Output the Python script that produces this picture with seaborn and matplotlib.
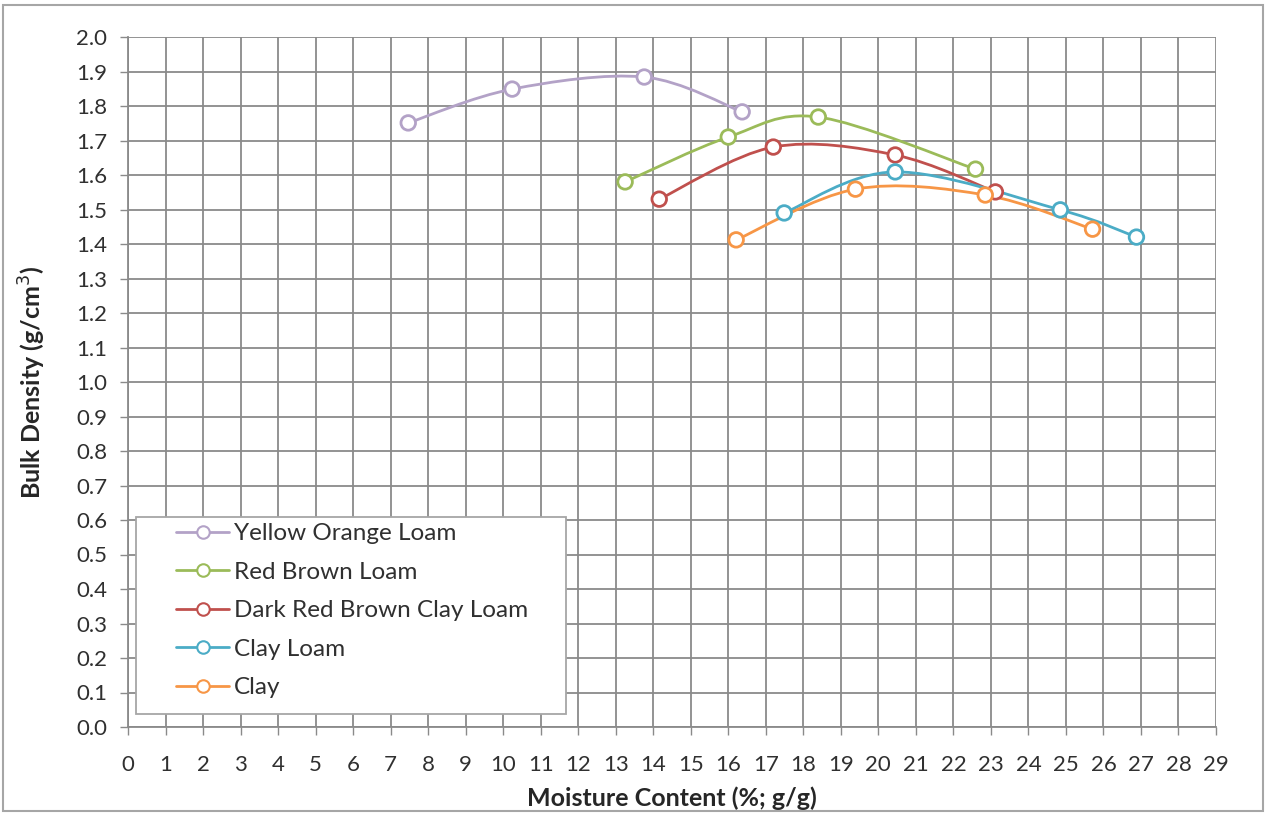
import numpy as np
import pandas as pd
import matplotlib
matplotlib.use("Agg")
import matplotlib.pyplot as plt
from matplotlib.path import Path
from matplotlib.patches import PathPatch, Rectangle
from matplotlib.lines import Line2D
import seaborn as sns

# Compaction test results: moisture content (%) vs bulk density (g/cm3)
soils = ["Yellow Orange Loam", "Red Brown Loam", "Dark Red Brown Clay Loam",
         "Clay Loam", "Clay"]
yol_moisture = [7.47, 10.24, 13.76, 16.37]
yol_density = [1.751, 1.849, 1.884, 1.783]
rbl_moisture = [13.25, 16.0, 18.4, 22.59]
rbl_density = [1.580, 1.710, 1.768, 1.617]
drbcl_moisture = [14.16, 17.2, 20.45, 23.12]
drbcl_density = [1.530, 1.681, 1.658, 1.551]
cl_moisture = [17.49, 20.45, 24.85, 26.88]
cl_density = [1.490, 1.609, 1.499, 1.420]
clay_moisture = [16.21, 19.39, 22.85, 25.71]
clay_density = [1.412, 1.559, 1.542, 1.443]

x_ticks = list(range(0, 30))
y_ticks = [round(0.1 * i, 1) for i in range(0, 21)]

colors = ["#b3a2c7", "#9bbb59", "#c0504d", "#4bacc6", "#f79646"]

frames = []
for name, xs, ys in zip(
        soils,
        [yol_moisture, rbl_moisture, drbcl_moisture, cl_moisture, clay_moisture],
        [yol_density, rbl_density, drbcl_density, cl_density, clay_density]):
    frames.append(pd.DataFrame({"Soil": name, "Moisture": xs, "Density": ys}))
df = pd.concat(frames, ignore_index=True)

sns.set_theme(style="white")
plt.rcParams["font.family"] = ["Lato", "DejaVu Sans"]

W, H = 1266, 814
fig = plt.figure(figsize=(W / 100, H / 100), dpi=100)
fig.patch.set_facecolor("white")
# outer chart border
fig.add_artist(Rectangle((3 / W, 3 / H), 1 - 6 / W, 1 - 8 / H,
                         transform=fig.transFigure, fill=False,
                         edgecolor="#a6a6a6", linewidth=1.5))

ax = fig.add_axes([128 / W, 1 - 727 / H, (1216 - 128) / W, (727 - 37) / H])
ax.set_xlim(0, 29)
ax.set_ylim(0, 2.0)
ax.set_xticks(x_ticks)
ax.set_yticks(y_ticks)
ax.set_xticklabels([str(t) for t in x_ticks])
ax.set_yticklabels([f"{t:.1f}" for t in y_ticks])
ax.grid(True, color="#8a8a8a", linewidth=1.3)
ax.set_axisbelow(True)
for side, sp in ax.spines.items():
    sp.set_visible(side in ("left", "bottom"))
    sp.set_color("#8a8a8a")
    sp.set_linewidth(1.3)
ax.tick_params(axis="both", which="major", length=6, width=1.0,
               color="#8a8a8a", labelsize=16, labelcolor="#303030",
               direction="out", bottom=True, left=True)
ax.tick_params(axis="y", pad=9)
ax.tick_params(axis="x", pad=14)


def smooth_path(xs, ys, tension=1 / 6):
    """Cubic Bezier path through the points (Catmull-Rom style control points)."""
    pts = np.column_stack([xs, ys])
    n = len(pts)
    verts = [pts[0]]
    codes = [Path.MOVETO]
    for i in range(n - 1):
        p0 = pts[i - 1] if i > 0 else pts[i]
        p1 = pts[i]
        p2 = pts[i + 1]
        p3 = pts[i + 2] if i + 2 < n else pts[i + 1]
        c1 = p1 + (p2 - p0) * tension
        c2 = p2 - (p3 - p1) * tension
        verts += [c1, c2, p2]
        codes += [Path.CURVE4] * 3
    return Path(np.array(verts), codes)


for name, col in zip(soils, colors):
    sub = df[df["Soil"] == name]
    patch = PathPatch(smooth_path(sub["Moisture"].values, sub["Density"].values),
                      facecolor="none", edgecolor=col, linewidth=2.0, zorder=3)
    ax.add_patch(patch)

sns.scatterplot(data=df, x="Moisture", y="Density", hue="Soil",
                hue_order=soils, palette=colors, ax=ax, s=110,
                marker="o", facecolor="white", linewidth=2.0, zorder=4,
                legend=False)
# open circles: edge takes the series colour
coll = ax.collections[-1]
coll.set_edgecolors(coll.get_facecolors())
coll.set_facecolors("white")

ax.set_xlabel("Moisture Content (%; g/g)", fontsize=18, fontweight="bold",
              color="#262626")
ax.set_ylabel("Bulk Density (g/cm$^{3}$)", fontsize=18, fontweight="bold",
              color="#262626")
ax.xaxis.set_label_coords(0.5, -(786 - 727) / 690)
ax.yaxis.set_label_coords(-(128 - 48) / 1088, 0.5)

# legend frame drawn as its own box so the inner padding can differ per side
frame = Rectangle((8 / 1088, 13 / 690), (566 - 136) / 1088, (714 - 517) / 690,
                  transform=ax.transAxes, facecolor="white",
                  edgecolor="#a6a6a6", linewidth=1.3, zorder=9)
ax.add_patch(frame)

handles = [Line2D([0], [0], color=c, linewidth=2.0, marker="o", markersize=9,
                  markerfacecolor="white", markeredgecolor=c,
                  markeredgewidth=1.5) for c in colors]
leg = ax.legend(handles, soils, loc="upper left",
                bbox_to_anchor=((176 - 128) / 1088, (727 - 523) / 690),
                fontsize=17.5, frameon=False, borderpad=0,
                labelspacing=0.72, handlelength=2.2, handletextpad=0.2,
                borderaxespad=0)
for t in leg.get_texts():
    t.set_color("#303030")
leg.set_zorder(10)

fig.savefig("out.png", dpi=100, facecolor="white")
